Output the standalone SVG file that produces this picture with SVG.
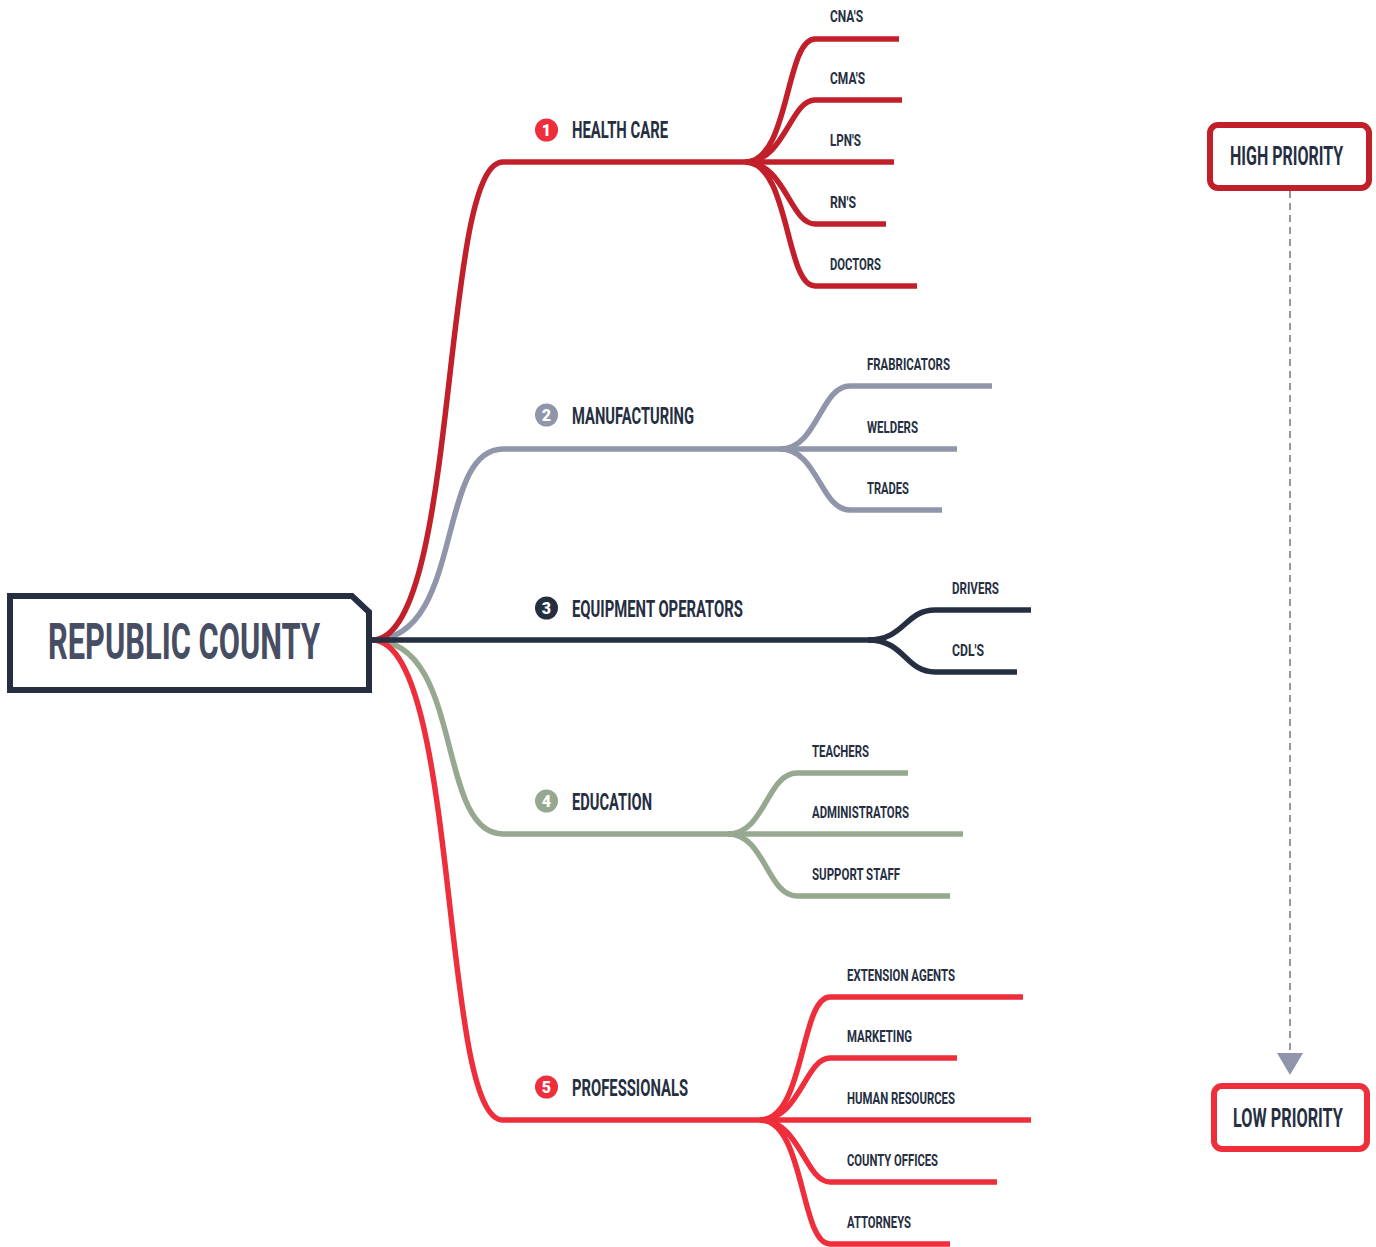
<svg xmlns="http://www.w3.org/2000/svg" width="1376" height="1247" viewBox="0 0 1376 1247">
<style>
.lbl{font-family:Roboto,"Liberation Sans",sans-serif;font-weight:700;fill:#262f42}
.leaf{font-size:17px}
.main{font-size:23px}
.num{font-family:Roboto,"Liberation Sans",sans-serif;font-weight:900;font-size:16px;fill:#fff;text-anchor:middle}
.br{fill:none;stroke-width:5.5}
.hc{stroke:#c1202a}
.mf{stroke:#9095aa}
.eq{stroke:#262f42}
.ed{stroke:#97a890}
.pr{stroke:#ee2e3b}
</style>
<rect width="1376" height="1247" fill="#fff"/>
<g id="connectors">
  <!-- trunks -->
  <path class="br mf" d="M372,640 C465,640 435,449 503,449 H785"/>
  <path class="br ed" d="M372,640 C465,640 435,834 503,834 H735"/>
  <path class="br hc" d="M372,640 C460,640 440,162 503,162 H750"/>
  <path class="br pr" d="M372,640 C460,640 440,1120 503,1120 H765"/>
  <path class="br eq" d="M372,640 H875"/>
  <!-- health care leaves -->
  <path class="br hc" d="M745,162 C790,162 785,39 815,39 H899"/>
  <path class="br hc" d="M745,162 C785,162 790,100 815,100 H902"/>
  <path class="br hc" d="M745,162 H894"/>
  <path class="br hc" d="M745,162 C785,162 790,224 815,224 H886"/>
  <path class="br hc" d="M745,162 C790,162 785,286 815,286 H917"/>
  <!-- manufacturing leaves -->
  <path class="br mf" d="M780,449 C818,449 820,386 850,386 H992"/>
  <path class="br mf" d="M780,449 H957"/>
  <path class="br mf" d="M780,449 C818,449 820,510 850,510 H942"/>
  <!-- equipment leaves -->
  <path class="br eq" d="M868,640 C905,640 905,610 935,610 H1031"/>
  <path class="br eq" d="M868,640 C905,640 905,672 935,672 H1017"/>
  <!-- education leaves -->
  <path class="br ed" d="M728,834 C765,834 767,773 797,773 H908"/>
  <path class="br ed" d="M728,834 H963"/>
  <path class="br ed" d="M728,834 C765,834 767,896 797,896 H950"/>
  <!-- professionals leaves -->
  <path class="br pr" d="M760,1120 C805,1120 800,997 830,997 H1023"/>
  <path class="br pr" d="M760,1120 C800,1120 805,1058 830,1058 H957"/>
  <path class="br pr" d="M760,1120 H1031"/>
  <path class="br pr" d="M760,1120 C800,1120 805,1182 830,1182 H997"/>
  <path class="br pr" d="M760,1120 C805,1120 800,1244 830,1244 H950"/>
  <!-- priority arrow -->
  <line x1="1290" y1="191" x2="1290" y2="1054" stroke="#9095aa" stroke-width="2" stroke-dasharray="7,5"/>
  <polygon points="1277,1053 1303,1053 1290,1075" fill="#9095aa"/>
</g>
<g id="root">
  <path d="M10,596 H352 L369,612 V690 H10 Z" fill="#fff" stroke="#262f42" stroke-width="6"/>
  <text x="48" y="659" font-family="Roboto,'Liberation Sans',sans-serif" font-weight="700" font-size="50" fill="#474e63" textLength="272" lengthAdjust="spacingAndGlyphs">REPUBLIC COUNTY</text>
</g>
<g id="health-care">
  <circle cx="546.5" cy="130" r="11.5" fill="#ee2e3b"/><text class="num" x="546.5" y="136">1</text>
  <text class="lbl main" x="572" y="138" textLength="96" lengthAdjust="spacingAndGlyphs">HEALTH CARE</text>
</g>
<g id="cnas"><text class="lbl leaf" x="830" y="22" textLength="33" lengthAdjust="spacingAndGlyphs">CNA'S</text></g>
<g id="cmas"><text class="lbl leaf" x="830" y="84" textLength="35" lengthAdjust="spacingAndGlyphs">CMA'S</text></g>
<g id="lpns"><text class="lbl leaf" x="830" y="146" textLength="31" lengthAdjust="spacingAndGlyphs">LPN'S</text></g>
<g id="rns"><text class="lbl leaf" x="830" y="208" textLength="26" lengthAdjust="spacingAndGlyphs">RN'S</text></g>
<g id="doctors"><text class="lbl leaf" x="830" y="270" textLength="51" lengthAdjust="spacingAndGlyphs">DOCTORS</text></g>
<g id="manufacturing">
  <circle cx="546.5" cy="415" r="11.5" fill="#9095aa"/><text class="num" x="546.5" y="421">2</text>
  <text class="lbl main" x="572" y="424" textLength="122" lengthAdjust="spacingAndGlyphs">MANUFACTURING</text>
</g>
<g id="frabricators"><text class="lbl leaf" x="867" y="370" textLength="83" lengthAdjust="spacingAndGlyphs">FRABRICATORS</text></g>
<g id="welders"><text class="lbl leaf" x="867" y="433" textLength="51" lengthAdjust="spacingAndGlyphs">WELDERS</text></g>
<g id="trades"><text class="lbl leaf" x="867" y="494" textLength="42" lengthAdjust="spacingAndGlyphs">TRADES</text></g>
<g id="equipment-operators">
  <circle cx="546.5" cy="608" r="11.5" fill="#262f42"/><text class="num" x="546.5" y="614">3</text>
  <text class="lbl main" x="572" y="617" textLength="171" lengthAdjust="spacingAndGlyphs">EQUIPMENT OPERATORS</text>
</g>
<g id="drivers"><text class="lbl leaf" x="952" y="594" textLength="47" lengthAdjust="spacingAndGlyphs">DRIVERS</text></g>
<g id="cdls"><text class="lbl leaf" x="952" y="656" textLength="32" lengthAdjust="spacingAndGlyphs">CDL'S</text></g>
<g id="education">
  <circle cx="546.5" cy="801" r="11.5" fill="#97a890"/><text class="num" x="546.5" y="807">4</text>
  <text class="lbl main" x="572" y="810" textLength="80" lengthAdjust="spacingAndGlyphs">EDUCATION</text>
</g>
<g id="teachers"><text class="lbl leaf" x="812" y="757" textLength="57" lengthAdjust="spacingAndGlyphs">TEACHERS</text></g>
<g id="administrators"><text class="lbl leaf" x="812" y="818" textLength="97" lengthAdjust="spacingAndGlyphs">ADMINISTRATORS</text></g>
<g id="support-staff"><text class="lbl leaf" x="812" y="880" textLength="88" lengthAdjust="spacingAndGlyphs">SUPPORT STAFF</text></g>
<g id="professionals">
  <circle cx="546.5" cy="1087" r="11.5" fill="#ee2e3b"/><text class="num" x="546.5" y="1093">5</text>
  <text class="lbl main" x="572" y="1096" textLength="116" lengthAdjust="spacingAndGlyphs">PROFESSIONALS</text>
</g>
<g id="extension-agents"><text class="lbl leaf" x="847" y="981" textLength="108" lengthAdjust="spacingAndGlyphs">EXTENSION AGENTS</text></g>
<g id="marketing"><text class="lbl leaf" x="847" y="1042" textLength="65" lengthAdjust="spacingAndGlyphs">MARKETING</text></g>
<g id="human-resources"><text class="lbl leaf" x="847" y="1104" textLength="108" lengthAdjust="spacingAndGlyphs">HUMAN RESOURCES</text></g>
<g id="county-offices"><text class="lbl leaf" x="847" y="1166" textLength="91" lengthAdjust="spacingAndGlyphs">COUNTY OFFICES</text></g>
<g id="attorneys"><text class="lbl leaf" x="847" y="1228" textLength="64" lengthAdjust="spacingAndGlyphs">ATTORNEYS</text></g>
<g id="high-priority">
  <rect x="1210" y="125" width="159" height="63" rx="8" fill="#fff" stroke="#c1202a" stroke-width="6"/>
  <text class="lbl" transform="translate(1230,165) scale(0.65,1)" x="0" y="0" font-size="26" textLength="174" lengthAdjust="spacingAndGlyphs">HIGH PRIORITY</text>
</g>
<g id="low-priority">
  <rect x="1214" y="1086" width="153" height="63" rx="8" fill="#fff" stroke="#ee2e3b" stroke-width="6"/>
  <text class="lbl" transform="translate(1233,1127) scale(0.65,1)" x="0" y="0" font-size="25" textLength="169" lengthAdjust="spacingAndGlyphs">LOW PRIORITY</text>
</g>
</svg>
